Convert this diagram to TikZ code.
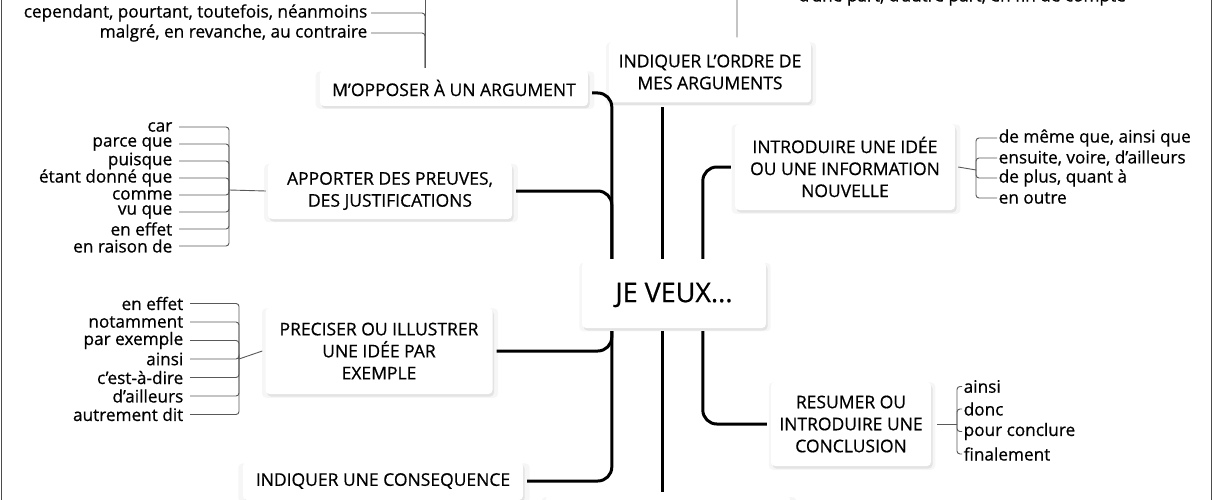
\documentclass[tikz,border=0pt]{standalone}
\usepackage{fontspec}
\setmainfont{Open Sans}[FakeBold=0.6]
\usetikzlibrary{shadows}

\begin{document}
\begin{tikzpicture}
        [x={(1pt,0pt)},
        y={(0pt,-1pt)},
        box/.style={draw=none,fill=white,rounded corners=4pt,align=center,inner sep=2pt,
          drop shadow={opacity=0.07,shadow xshift=1pt,shadow yshift=-2pt,shadow scale=1.04},
          drop shadow={opacity=0.16,shadow xshift=1.5pt,shadow yshift=-2.5pt},
          font=\fontsize{17.5}{22}\selectfont},
        item/.style={inner sep=0.5pt,font=\fontsize{17.2}{17}\selectfont},
        link/.style={line width=3pt,color=black,rounded corners=14pt,shorten <=3pt,shorten >=4pt},
        twig/.style={line width=0.9pt,color=black!65,rounded corners=3pt},
        frame/.style={line width=1pt,color=black!70}]
%
\useasboundingbox (0,0) rectangle (1212,500);
\clip (0,0) rectangle (1212,500);
\fill[white] (0,0) rectangle (1212,500);
\draw[frame] (1,0) -- (1,500);
\draw[frame] (1211,0) -- (1211,500);
%
%% The boxes
%%
\node[box,minimum width=184,minimum height=66,font=\fontsize{27}{30}\selectfont] (veux) at (674,295) {JE VEUX...};
\node[box,minimum width=268,minimum height=36] (oppose) at (454,88) {M'OPPOSER À UN ARGUMENT};
\node[box,minimum width=202,minimum height=61] (ordre) at (710,72) {INDIQUER L'ORDRE DE\\MES ARGUMENTS};
\node[box,minimum width=244,minimum height=56] (preuves) at (390,191) {APPORTER DES PREUVES,\\DES JUSTIFICATIONS};
\node[box,minimum width=220,minimum height=86] (idee) at (845,167) {INTRODUIRE UNE IDÉE\\OU UNE INFORMATION\\NOUVELLE};
\node[box,minimum width=227,minimum height=86] (precise) at (379,351) {PRECISER OU ILLUSTRER\\UNE IDÉE PAR\\EXEMPLE};
\node[box,minimum width=280,minimum height=38] (consequence) at (383,481) {INDIQUER UNE CONSEQUENCE};
\node[box,minimum width=160,minimum height=84] (resume) at (851,424) {RESUMER OU\\INTRODUIRE UNE\\CONCLUSION};
\node[box,minimum width=245,minimum height=60,anchor=north] (suite) at (668,496) {};
%
%% The links from the centre
%%
\draw[link] ([xshift=30pt]veux.north west) |- ([yshift=-5pt]oppose.east);
\draw[link] ([xshift=30pt]veux.north west) |- (preuves.east);
\draw[link] ([xshift=81pt]veux.north west) -- ([xshift=81pt]veux.north west |- ordre.south);
\draw[link] ([xshift=121pt]veux.north west) |- (idee.west);
\draw[link] ([xshift=30pt]veux.south west) |- (precise.east);
\draw[link] ([xshift=30pt]veux.south west) |- (consequence.east);
\draw[link] ([xshift=81pt]veux.south west) -- ([xshift=81pt]veux.south west |- suite.north);
\draw[link] ([xshift=121pt]veux.south west) |- (resume.west);
%
%% M'opposer
%%
\coordinate (ok) at (425,68);
\coordinate (oktop) at (425,-5);
\node[item,anchor=east] (o1) at (368,13) {cependant, pourtant, toutefois, néanmoins};
\node[item,anchor=east] (o2) at (368,33) {malgré, en revanche, au contraire};
\foreach \i in {1,2}
  \draw[twig] (o\i.east) ++(3,0) -| (ok);
\draw[twig] (ok) -- (oktop);
%
%% L'ordre
%%
\node[item,anchor=west] (t1) at (798,-3) {d'une part, d'autre part, en fin de compte};
\draw[twig] ([xshift=27pt]ordre.north) ++(0,-4) |- ([xshift=-6pt]t1.west);
%
%% Les preuves
%%
\coordinate (pk) at (229,190);
\foreach \txt [count=\i] in {car,parce que,puisque,étant donné que,comme,vu que,en effet,en raison de}
  \node[item,anchor=east] (p\i) at (173,110+17*\i) {\txt};
\foreach \i in {1,...,8}
  \draw[twig] ([xshift=6pt]p\i.east) -| (pk);
\draw[twig] (pk) -- ([xshift=-2pt]preuves.west);
%
%% Une idee nouvelle
%%
\coordinate (ik) at (976,170);
\foreach \txt [count=\i] in {{de même que, ainsi que},{ensuite, voire, d'ailleurs},{de plus, quant à},en outre}
  \node[item,anchor=west] (i\i) at (998,118+20*\i) {\txt};
\foreach \i in {1,...,4}
  \draw[twig] (ik) |- ([xshift=-1pt]i\i.west);
\draw[twig] ([xshift=3pt]idee.east) -- (ik);
%
%% Preciser
%%
\coordinate (ek) at (239,359);
\foreach \txt [count=\i] in {en effet,notamment,par exemple,ainsi,c'est-à-dire,d'ailleurs,autrement dit}
  \node[item,anchor=east] (e\i) at (184,285+18.5*\i) {\txt};
\foreach \i in {1,...,7}
  \draw[twig] ([xshift=6pt]e\i.east) -| (ek);
\draw[twig] (ek) -- ([xshift=-3pt]precise.west);
%
%% Conclusion
%%
\coordinate (rk) at (957,424);
\foreach \txt [count=\i] in {ainsi,donc,pour conclure,finalement}
  \node[item,anchor=west] (r\i) at (963,364+22.5*\i) {\txt};
\foreach \i in {1,...,4}
  \draw[twig] (rk) |- ([xshift=-1pt]r\i.west);
\draw[twig] ([xshift=6pt]resume.east) -- (rk);
\end{tikzpicture}
\end{document}
